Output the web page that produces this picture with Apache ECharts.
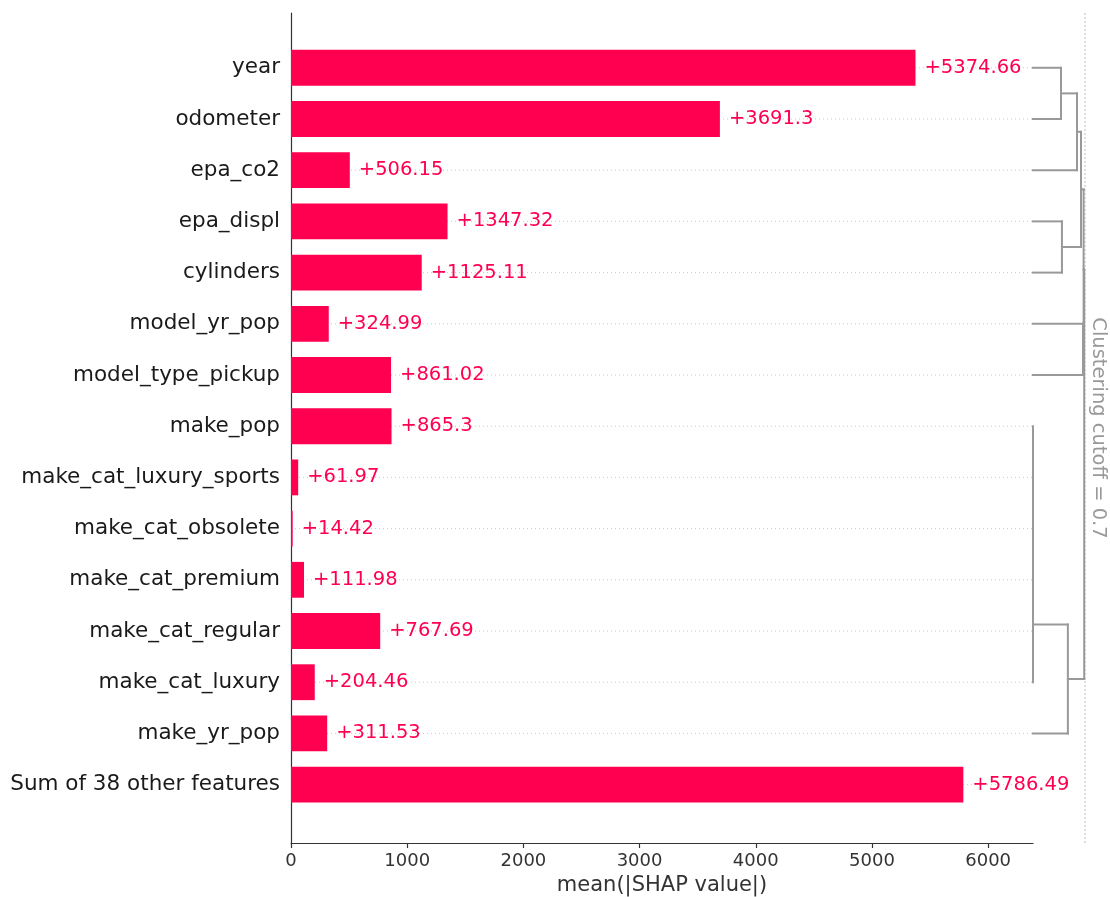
<!DOCTYPE html>
<html>
<head>
<meta charset="utf-8">
<title>mean(|SHAP value|)</title>
<script src="https://cdn.jsdelivr.net/npm/echarts@6/dist/echarts.min.js"></script>
<style>
  html, body { margin: 0; padding: 0; background: #ffffff; }
  #chart { width: 1110px; height: 897px; }
</style>
</head>
<body>
<div id="chart"></div>
<script>
// Feature names, top to bottom
const FEATURES = [
  'year', 'odometer', 'epa_co2', 'epa_displ', 'cylinders', 'model_yr_pop',
  'model_type_pickup', 'make_pop', 'make_cat_luxury_sports', 'make_cat_obsolete',
  'make_cat_premium', 'make_cat_regular', 'make_cat_luxury', 'make_yr_pop',
  'Sum of 38 other features'
];
// mean(|SHAP value|) per feature
const MEAN_ABS_SHAP = [
  5374.66, 3691.3, 506.15, 1347.32, 1125.11, 324.99,
  861.02, 865.3, 61.97, 14.42,
  111.98, 767.69, 204.46, 311.53,
  5786.49
];
// x tick values
const X_TICKS = [0, 1000, 2000, 3000, 4000, 5000, 6000];

// Feature clustering: [left node, right node, distance]; leaves are row indices,
// each merge creates a new node numbered after the leaves.
const N_LEAVES = 14;
const MERGES = [
  [0, 1, 0.377],
  [3, 4, 0.39],
  [14, 2, 0.593],
  [16, 15, 0.647],
  [5, 6, 0.674],
  [17, 18, 0.682],
  [7, 8, 0.0],
  [9, 10, 0.0],
  [20, 21, 0.0],
  [22, 11, 0.0],
  [23, 12, 0.0],
  [24, 13, 0.47],
  [19, 25, 0.69]
];
const CLUSTER_CUTOFF = 0.7;
const DIST_SPAN = 1.0;

// Axis extents
const X_MIN = 0, X_MAX = 6386;
const Y_MIN = -1.07, Y_MAX = 15.14;
const BAR_HEIGHT = 0.7;

const FONT = '"DejaVu Sans", "Liberation Sans", sans-serif';
const PINK = '#ff0051';

// distance -> x position to the right of the plotting area
function distX(d) {
  return X_MAX + (d / DIST_SPAN) * 0.1 * (X_MAX - X_MIN);
}

// dendrogram line segments
const nodeY = [], nodeD = [];
for (let i = 0; i < N_LEAVES; i++) { nodeY.push(i); nodeD.push(0); }
const segments = [];
MERGES.forEach(([a, b, d]) => {
  if (d <= CLUSTER_CUTOFF) {
    segments.push([distX(nodeD[a]), nodeY[a], distX(d), nodeY[a]]);
    segments.push([distX(d), nodeY[a], distX(d), nodeY[b]]);
    segments.push([distX(d), nodeY[b], distX(nodeD[b]), nodeY[b]]);
  }
  nodeY.push((nodeY[a] + nodeY[b]) / 2);
  nodeD.push(d);
});

const barData = MEAN_ABS_SHAP.map((v, i) => [v, i]);
const rowData = FEATURES.map((_, i) => [i]);

const chart = echarts.init(document.getElementById('chart'), null, { renderer: 'canvas' });

chart.setOption({
  backgroundColor: '#ffffff',
  animation: false,
  grid: { left: 291, right: 77, top: 13, bottom: 54, containLabel: false, outerBoundsMode: 'none' },
  xAxis: {
    type: 'value',
    min: X_MIN,
    max: X_MAX,
    name: 'mean(|SHAP value|)',
    nameLocation: 'middle',
    nameGap: 31,
    nameTextStyle: { fontFamily: FONT, fontSize: 21, color: '#333333' },
    axisLine: { show: true, onZero: false, lineStyle: { color: '#333333', width: 1.2 } },
    axisTick: { show: true, length: 5, customValues: X_TICKS, lineStyle: { color: '#333333', width: 1.2 } },
    axisLabel: {
      customValues: X_TICKS,
      formatter: (v) => String(v),
      fontFamily: FONT, fontSize: 18, color: '#333333', margin: 9
    },
    splitLine: { show: false }
  },
  yAxis: {
    type: 'value',
    inverse: true,
    min: Y_MIN,
    max: Y_MAX,
    axisLine: { show: true, onZero: false, lineStyle: { color: '#333333', width: 1.2 } },
    axisTick: { show: false },
    axisLabel: {
      customValues: FEATURES.map((_, i) => i),
      formatter: (v) => FEATURES[Math.round(v)] || '',
      fontFamily: FONT, fontSize: 21.5, color: '#1a1a1a', margin: 11
    },
    splitLine: { show: false }
  },
  series: [
    {
      // dotted row guides
      type: 'custom',
      z: 1,
      data: rowData,
      encode: { y: 0 },
      renderItem(params, api) {
        const i = api.value(0);
        const a = api.coord([X_MIN, i]);
        const b = api.coord([X_MAX, i]);
        return {
          type: 'line',
          shape: { x1: a[0], y1: a[1], x2: b[0], y2: b[1] },
          style: { stroke: '#c8c8c8', lineWidth: 1, lineDash: [1, 3] }
        };
      }
    },
    {
      // bars with value labels
      type: 'custom',
      z: 3,
      data: barData,
      encode: { x: 0, y: 1 },
      renderItem(params, api) {
        const v = api.value(0), i = api.value(1);
        const p0 = api.coord([0, i]);
        const p1 = api.coord([v, i]);
        const h = Math.abs(api.size([0, BAR_HEIGHT])[1]);
        return {
          type: 'group',
          children: [
            {
              type: 'rect',
              shape: { x: p0[0], y: p0[1] - h / 2, width: p1[0] - p0[0], height: h },
              style: { fill: PINK }
            },
            {
              type: 'text',
              x: p1[0] + 9,
              y: p1[1],
              style: {
                text: '+' + String(MEAN_ABS_SHAP[params.dataIndex]),
                fill: PINK,
                font: '19.5px ' + FONT,
                align: 'left',
                verticalAlign: 'middle'
              }
            }
          ]
        };
      }
    },
    {
      // clustering dendrogram
      type: 'custom',
      z: 2,
      clip: false,
      data: segments,
      encode: { x: [0, 2], y: [1, 3] },
      renderItem(params, api) {
        const a = api.coord([api.value(0), api.value(1)]);
        const b = api.coord([api.value(2), api.value(3)]);
        return {
          type: 'line',
          shape: { x1: a[0], y1: a[1], x2: b[0], y2: b[1] },
          style: { stroke: '#999999', lineWidth: 2, lineCap: 'square' }
        };
      }
    },
    {
      // clustering cutoff line and caption
      type: 'custom',
      z: 1,
      clip: false,
      data: [[distX(CLUSTER_CUTOFF)]],
      encode: { x: 0 },
      renderItem(params, api) {
        const cx = api.value(0);
        const top = api.coord([cx, Y_MIN]);
        const bottom = api.coord([cx, Y_MAX]);
        const mid = api.coord([cx + 0.005 * (X_MAX - X_MIN), (Y_MIN + Y_MAX) / 2]);
        return {
          type: 'group',
          children: [
            {
              type: 'line',
              shape: { x1: top[0], y1: top[1], x2: bottom[0], y2: bottom[1] },
              style: { stroke: '#dddddd', lineWidth: 2, lineDash: [2, 2] }
            },
            {
              type: 'text',
              x: mid[0] + 9,
              y: mid[1],
              rotation: -Math.PI / 2,
              style: {
                text: 'Clustering cutoff = ' + CLUSTER_CUTOFF,
                fill: '#999999',
                font: '19.5px ' + FONT,
                align: 'center',
                verticalAlign: 'middle'
              }
            }
          ]
        };
      }
    }
  ]
});
</script>
</body>
</html>
